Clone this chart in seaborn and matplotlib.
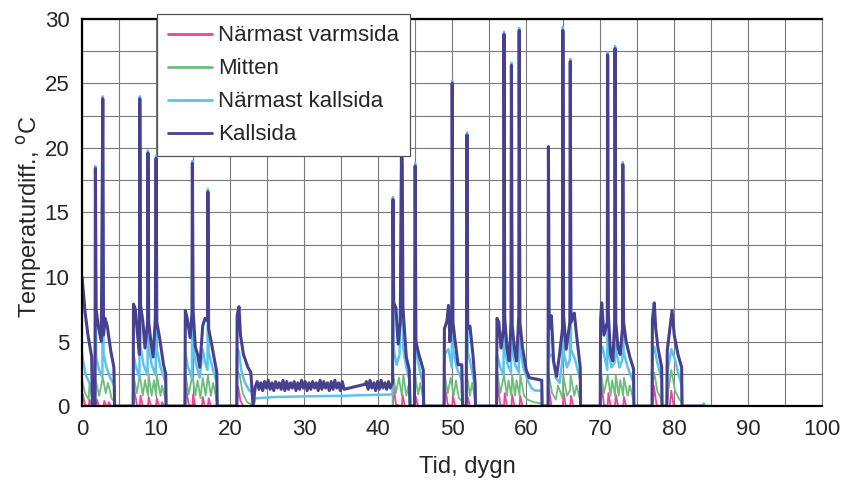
import matplotlib
matplotlib.use("Agg")
import matplotlib.pyplot as plt
import numpy as np
import pandas as pd
import seaborn as sns
from matplotlib.ticker import MultipleLocator

# ── Data ──────────────────────────────────────────────────────────────────────

SERIES = ["Närmast varmsida", "Mitten", "Närmast kallsida", "Kallsida"]
COLORS = ["#e8489a", "#6dbd7c", "#5cc3ec", "#46408e"]
WIDTHS = [1.3, 1.3, 1.8, 2.2]

kallsida = [
    # days 0-4
    (0.0, 10.0), (0.4, 7.3), (0.8, 5.5), (1.3, 3.8), (1.4, 0.0), (1.75, 0.0),
    (1.8, 18.4), (1.9, 7.5), (2.2, 6.2), (2.6, 5.0), (2.8, 23.8), (2.9, 5.5),
    (3.1, 6.8), (3.4, 6.2), (3.9, 4.2), (4.3, 3.0), (4.4, 0.0),
    # days 7-11
    (6.9, 0.0), (6.95, 7.9), (7.2, 7.5), (7.5, 5.5), (7.75, 4.0), (7.8, 23.8),
    (7.9, 7.8), (8.2, 6.6), (8.5, 4.5), (8.85, 6.5), (8.9, 19.6), (9.0, 6.5),
    (9.3, 5.0), (9.6, 3.8), (9.9, 6.8), (10.0, 19.2), (10.1, 6.5), (10.5, 5.2),
    (11.0, 3.2), (11.3, 2.5), (11.35, 0.0),
    # days 14-18
    (13.9, 0.0), (13.95, 7.4), (14.2, 6.8), (14.6, 5.3), (14.85, 7.2),
    (14.9, 18.8), (15.0, 7.4), (15.3, 4.6), (15.6, 4.0), (15.9, 3.0),
    (16.3, 6.2), (16.6, 6.8), (16.95, 6.6), (17.0, 16.6), (17.1, 6.0),
    (17.5, 4.8), (18.2, 2.6), (18.25, 0.0),
    # days 21-23
    (20.9, 0.0), (20.95, 7.0), (21.2, 7.7), (21.4, 5.5), (21.8, 4.0),
    (22.4, 3.0), (22.8, 2.6), (23.1, 0.0),
    # plateau days 23-42
    (23.4, 1.5), (23.65, 1.9), (23.9, 1.3), (24.15, 1.8), (24.4, 1.2),
    (24.65, 1.9), (24.9, 1.4), (25.15, 2.0), (25.4, 1.3), (25.65, 1.8),
    (25.9, 1.2), (26.15, 1.9), (26.4, 1.4), (26.65, 1.8), (26.9, 1.3),
    (27.15, 2.0), (27.4, 1.2), (27.65, 1.9), (27.9, 1.3), (28.15, 1.8),
    (28.4, 1.4), (28.65, 1.9), (28.9, 1.2), (29.15, 1.8), (29.4, 1.3),
    (29.65, 2.0), (29.9, 1.4), (30.15, 1.9), (30.4, 1.2), (30.65, 1.8),
    (30.9, 1.3), (31.15, 1.9), (31.4, 1.4), (31.65, 1.8), (31.9, 1.2),
    (32.15, 2.0), (32.4, 1.3), (32.65, 1.9), (32.9, 1.4), (33.15, 1.8),
    (33.4, 1.2), (33.65, 1.9), (33.9, 1.3), (34.15, 2.0), (34.4, 1.4),
    (34.65, 1.8), (34.9, 1.2), (35.15, 1.9), (35.4, 1.3), (38.3, 1.7),
    (38.4, 1.9), (38.65, 1.3), (38.9, 2.0), (39.15, 1.4), (39.4, 1.8),
    (39.65, 1.2), (39.9, 1.9), (40.15, 1.3), (40.4, 2.0), (40.65, 1.4),
    (40.9, 1.8), (41.15, 1.3), (41.4, 1.9), (41.65, 1.4), (41.95, 1.8),
    # days 42-46
    (42.0, 16.0), (42.1, 8.0), (42.4, 7.6), (42.7, 4.8), (43.0, 6.5),
    (43.15, 20.1), (43.25, 18.8), (43.35, 7.6), (43.8, 3.8), (44.2, 2.8),
    (44.3, 0.0), (44.9, 0.0), (45.0, 18.6), (45.1, 5.0), (45.5, 4.0),
    (46.1, 2.8), (46.15, 0.0),
    # days 49-53
    (48.9, 0.0), (48.95, 6.0), (49.3, 6.6), (49.5, 7.8), (49.7, 5.0),
    (49.95, 7.0), (50.0, 25.0), (50.1, 6.5), (50.4, 5.0), (50.8, 3.2),
    (51.3, 3.2), (51.4, 0.0), (51.9, 0.0), (52.0, 21.0), (52.1, 6.0),
    (52.4, 6.2), (52.8, 4.0), (53.1, 1.8), (53.15, 0.0),
    # days 56-62
    (56.0, 0.0), (56.05, 6.8), (56.3, 6.5), (56.6, 4.5), (56.95, 6.0),
    (57.0, 28.8), (57.1, 6.8), (57.4, 4.5), (57.7, 3.5), (57.95, 6.5),
    (58.0, 26.4), (58.1, 6.3), (58.4, 4.5), (58.7, 3.5), (59.0, 7.0),
    (59.05, 29.1), (59.15, 6.5), (59.5, 4.5), (60.0, 2.8), (60.4, 2.2),
    (62.1, 2.0), (62.15, 0.0),
    # days 63-67
    (62.95, 0.0), (63.0, 20.1), (63.1, 6.0), (63.4, 7.0), (63.7, 3.5),
    (64.1, 2.3), (64.5, 4.0), (64.9, 6.0), (64.95, 29.1), (65.05, 7.0),
    (65.4, 4.4), (65.9, 6.5), (65.95, 26.7), (66.05, 6.5), (66.5, 7.2),
    (66.8, 5.5), (67.3, 3.0), (67.35, 0.0),
    # days 70-74
    (70.0, 0.0), (70.05, 6.7), (70.2, 8.0), (70.5, 5.5), (70.95, 6.5),
    (71.0, 27.2), (71.1, 7.0), (71.4, 4.0), (71.7, 3.5), (71.95, 6.5),
    (72.0, 27.7), (72.1, 6.5), (72.4, 4.5), (72.7, 4.0), (73.0, 6.0),
    (73.05, 18.7), (73.15, 6.5), (73.5, 5.0), (74.0, 3.8), (74.5, 2.9),
    (74.55, 0.0),
    # days 77-81
    (77.0, 0.0), (77.05, 6.7), (77.3, 8.0), (77.5, 6.0), (77.8, 4.5),
    (78.3, 3.0), (78.35, 0.0), (79.0, 0.0), (79.05, 4.3), (79.4, 6.0),
    (79.7, 7.4), (80.0, 5.5), (80.5, 4.0), (81.0, 3.0), (81.05, 0.0),
    (84.0, 0.0),
]

narmast_kallsida = [
    (0.0, 4.1), (0.1, 3.6), (0.5, 2.4), (1.0, 1.8), (1.35, 1.4), (1.4, 0.0),
    (1.75, 0.0), (1.8, 18.6), (1.9, 3.8), (2.3, 2.8), (2.75, 2.2), (2.8, 24.0),
    (2.9, 4.0), (3.3, 3.0), (3.8, 2.2), (4.35, 1.6), (4.4, 0.0),
    (6.9, 0.0), (6.95, 4.0), (7.2, 3.2), (7.75, 2.2), (7.8, 24.0), (7.9, 4.6),
    (8.3, 3.2), (8.85, 2.4), (8.9, 19.8), (9.0, 4.6), (9.4, 3.2), (9.95, 2.4),
    (10.0, 19.4), (10.1, 4.4), (10.6, 3.0), (11.3, 1.8), (11.35, 0.0),
    (13.9, 0.0), (13.95, 4.2), (14.3, 3.0), (14.85, 2.2), (14.9, 19.0),
    (15.0, 4.6), (15.4, 3.2), (15.9, 2.2), (16.3, 4.4), (16.6, 3.4),
    (16.95, 2.8), (17.0, 16.8), (17.1, 4.2), (17.6, 3.0), (18.2, 1.8),
    (18.25, 0.0),
    (20.9, 0.0), (20.95, 4.5), (21.2, 4.2), (21.5, 2.8), (22.0, 1.8),
    (22.6, 1.2), (23.1, 1.0), (23.15, 0.0), (23.4, 0.6), (26.0, 0.7),
    (30.0, 0.75), (35.5, 0.8), (38.3, 0.85), (41.95, 0.9),
    (42.0, 16.2), (42.1, 4.4), (42.5, 3.2), (42.9, 4.0), (43.15, 20.3),
    (43.25, 19.0), (43.35, 4.6), (43.8, 3.0), (44.25, 2.0), (44.3, 0.0),
    (44.9, 0.0), (45.0, 18.8), (45.1, 4.4), (45.6, 2.8), (46.1, 1.6),
    (46.15, 0.0),
    (48.9, 0.0), (48.95, 4.0), (49.5, 4.4), (49.95, 3.0), (50.0, 25.2),
    (50.1, 4.4), (50.6, 3.0), (51.3, 2.0), (51.4, 0.0), (51.9, 0.0),
    (52.0, 21.2), (52.1, 4.2), (52.6, 3.0), (53.1, 1.4), (53.15, 0.0),
    (56.0, 0.0), (56.05, 4.0), (56.5, 3.0), (56.95, 2.4), (57.0, 29.0),
    (57.1, 4.6), (57.5, 3.2), (57.95, 2.6), (58.0, 26.6), (58.1, 4.6),
    (58.5, 3.2), (59.0, 2.6), (59.05, 29.3), (59.15, 4.4), (59.6, 3.0),
    (60.2, 2.0), (60.7, 1.4), (61.2, 1.2), (62.1, 1.2), (62.15, 0.0),
    (62.95, 0.0), (63.0, 20.1), (63.1, 3.8), (63.5, 4.0), (64.0, 2.2),
    (64.5, 1.8), (64.9, 3.6), (64.95, 29.4), (65.05, 4.2), (65.5, 3.0),
    (65.9, 3.6), (65.95, 26.9), (66.05, 4.4), (66.6, 3.6), (67.3, 2.0),
    (67.35, 0.0),
    (70.0, 0.0), (70.05, 4.0), (70.3, 4.6), (70.95, 2.8), (71.0, 27.4),
    (71.1, 4.4), (71.5, 3.0), (71.95, 3.4), (72.0, 27.9), (72.1, 4.4),
    (72.6, 3.0), (73.0, 3.6), (73.05, 18.9), (73.15, 4.2), (73.7, 3.0),
    (74.5, 1.8), (74.55, 0.0),
    (77.0, 0.0), (77.05, 4.0), (77.3, 4.6), (77.7, 3.4), (78.3, 2.0),
    (78.35, 0.0), (79.0, 0.0), (79.05, 2.5), (79.6, 4.4), (80.1, 3.6),
    (80.6, 2.4), (81.0, 1.6), (81.05, 0.0), (83.8, 0.0), (84.0, 0.2),
    (84.2, 0.0), (85.0, 0.0),
]

mitten = [
    (0.0, 2.0), (0.4, 1.0), (0.9, 0.5), (1.0, 1.8), (1.35, 0.6), (1.4, 0.0),
    (1.75, 0.0), (1.85, 2.0), (2.3, 0.8), (2.8, 2.2), (3.2, 1.0), (3.5, 1.8),
    (4.0, 0.6), (4.35, 0.3), (4.4, 0.0),
    (6.9, 0.0), (6.95, 2.4), (7.4, 1.0), (7.8, 2.4), (8.2, 0.8), (8.5, 2.0),
    (8.9, 0.8), (9.0, 2.4), (9.4, 0.8), (9.7, 2.0), (10.0, 0.8), (10.1, 2.4),
    (10.6, 0.8), (10.8, 1.6), (11.3, 0.4), (11.35, 0.0),
    (13.9, 0.0), (13.95, 2.6), (14.4, 0.9), (14.9, 2.4), (15.3, 0.8),
    (15.6, 2.0), (16.0, 0.6), (16.3, 2.2), (16.7, 0.8), (17.0, 2.4),
    (17.4, 0.8), (17.7, 1.8), (18.2, 0.4), (18.25, 0.0),
    (20.9, 0.0), (20.95, 2.8), (21.3, 2.4), (21.7, 1.0), (22.3, 0.3),
    (23.0, 0.1), (23.1, 0.0),
    (41.95, 0.0), (42.0, 2.6), (42.4, 1.0), (42.8, 2.2), (43.2, 0.8),
    (43.4, 2.4), (43.8, 0.8), (44.1, 1.6), (44.3, 0.3), (44.35, 0.0),
    (44.95, 0.0), (45.0, 2.4), (45.4, 0.9), (45.7, 1.8), (46.1, 0.4),
    (46.15, 0.0),
    (48.9, 0.0), (48.95, 2.6), (49.4, 1.0), (49.8, 2.2), (50.2, 0.8),
    (50.5, 2.0), (50.9, 0.6), (51.3, 0.4), (51.4, 0.0), (51.95, 0.0),
    (52.0, 2.4), (52.4, 0.8), (52.7, 1.8), (53.1, 0.4), (53.15, 0.0),
    (56.0, 0.0), (56.05, 2.8), (56.5, 1.0), (57.0, 2.4), (57.4, 0.8),
    (57.6, 2.0), (58.0, 0.8), (58.1, 2.4), (58.5, 0.8), (58.7, 2.0),
    (59.1, 0.8), (59.2, 2.4), (59.7, 0.8), (60.2, 0.5), (61.0, 0.3),
    (62.1, 0.2), (62.15, 0.0),
    (62.95, 0.0), (63.0, 2.6), (63.5, 1.0), (64.0, 0.5), (64.3, 1.6),
    (64.9, 0.6), (65.0, 2.4), (65.5, 0.8), (65.9, 1.2), (66.0, 2.4),
    (66.5, 0.8), (66.8, 1.6), (67.3, 0.4), (67.35, 0.0),
    (70.0, 0.0), (70.05, 2.8), (70.5, 1.0), (71.0, 2.4), (71.4, 0.8),
    (71.6, 2.0), (72.0, 0.8), (72.1, 2.4), (72.5, 0.8), (72.7, 2.0),
    (73.1, 0.8), (73.2, 2.2), (73.7, 0.8), (74.0, 1.6), (74.5, 0.4),
    (74.55, 0.0),
    (77.0, 0.0), (77.05, 1.6), (77.3, 2.6), (77.7, 1.2), (78.3, 0.4),
    (78.35, 0.0), (79.0, 0.0), (79.2, 1.2), (79.6, 2.8), (80.1, 1.2),
    (80.6, 0.6), (81.0, 0.3), (81.05, 0.0),
]

narmast_varmsida = [
    (0.0, 0.0), (0.1, 0.9), (0.4, 0.1), (0.9, 0.0), (1.0, 0.5), (1.3, 0.0),
    (1.9, 0.0), (2.0, 0.5), (2.3, 0.0), (2.9, 0.0), (3.0, 0.4), (3.3, 0.0),
    (3.5, 0.0), (3.6, 0.3), (3.9, 0.0),
    (6.95, 0.0), (7.05, 1.3), (7.4, 0.1), (7.8, 0.0), (7.9, 0.8), (8.2, 0.0),
    (8.9, 0.0), (9.0, 0.7), (9.3, 0.0), (10.0, 0.0), (10.1, 0.6), (10.4, 0.0),
    (10.7, 0.0), (10.8, 0.3), (11.1, 0.0),
    (13.95, 0.0), (14.05, 1.4), (14.4, 0.1), (14.9, 0.0), (15.0, 0.9),
    (15.3, 0.0), (16.2, 0.0), (16.3, 0.7), (16.6, 0.0), (17.0, 0.0),
    (17.1, 0.6), (17.4, 0.0),
    (20.95, 0.0), (21.1, 1.5), (21.4, 0.4), (21.8, 0.0),
    (42.0, 0.0), (42.1, 1.6), (42.4, 0.1), (43.2, 0.0), (43.3, 0.9),
    (43.6, 0.0), (45.0, 0.0), (45.1, 0.7), (45.4, 0.0),
    (48.95, 0.0), (49.05, 1.5), (49.4, 0.1), (50.0, 0.0), (50.1, 0.8),
    (50.4, 0.0), (52.0, 0.0), (52.1, 0.7), (52.4, 0.0),
    (56.05, 0.0), (56.15, 1.6), (56.5, 0.1), (57.0, 0.0), (57.1, 1.0),
    (57.4, 0.0), (58.0, 0.0), (58.1, 0.9), (58.4, 0.0), (59.1, 0.0),
    (59.2, 0.8), (59.5, 0.0),
    (63.0, 0.0), (63.1, 1.3), (63.4, 0.0), (64.95, 0.0), (65.05, 1.0),
    (65.35, 0.0), (65.95, 0.0), (66.05, 0.8), (66.35, 0.0),
    (70.05, 0.0), (70.15, 1.8), (70.5, 0.1), (71.0, 0.0), (71.1, 1.0),
    (71.4, 0.0), (72.0, 0.0), (72.1, 0.9), (72.4, 0.0), (73.1, 0.0),
    (73.2, 0.7), (73.5, 0.0),
    (77.1, 0.0), (77.25, 1.6), (77.6, 0.1), (78.0, 0.0),
    (79.4, 0.0), (79.6, 1.2), (79.9, 0.1), (80.3, 0.0), (81.0, 0.0),
]

X_TICKS = list(range(0, 101, 10))
Y_TICKS = list(range(0, 31, 5))


# ── Build long-form table ─────────────────────────────────────────────────────

frames = []
for name, pts in zip(SERIES, [narmast_varmsida, mitten, narmast_kallsida, kallsida]):
    t, v = zip(*pts)
    frames.append(pd.DataFrame({"tid": t, "temp": v, "serie": name}))
df = pd.concat(frames, ignore_index=True)


# ── Plot ──────────────────────────────────────────────────────────────────────

sns.set_style("white")
plt.rcParams["font.family"] = ["Liberation Sans", "DejaVu Sans"]

fig = plt.figure(figsize=(8.46, 4.84), dpi=100)
ax = fig.add_axes([0.097, 0.161, 0.875, 0.80])

for name, color, lw in zip(SERIES, COLORS, WIDTHS):
    sub = df[df["serie"] == name]
    sns.lineplot(data=sub, x="tid", y="temp", ax=ax, color=color, linewidth=lw,
                 label=name, sort=False, estimator=None)

ax.set_xlim(0, 100)
ax.set_ylim(0, 30)
ax.set_xticks(X_TICKS)
ax.set_yticks(Y_TICKS)
ax.xaxis.set_minor_locator(MultipleLocator(5))
ax.yaxis.set_minor_locator(MultipleLocator(2.5))
ax.grid(which="both", color="#7a7a7a", linewidth=0.8)
ax.set_axisbelow(True)
ax.tick_params(axis="both", which="major", direction="out", length=6,
               width=1.2, color="black", labelsize=16, pad=3)
ax.tick_params(axis="both", which="minor", length=0)

for side in ["left", "bottom", "top"]:
    ax.spines[side].set_color("black")
    ax.spines[side].set_linewidth(1.6)
ax.spines["right"].set_color("#7a7a7a")
ax.spines["right"].set_linewidth(0.8)

ax.set_xlabel("Tid, dygn", fontsize=17)
ax.set_ylabel("Temperaturdiff., $^{\\mathrm{o}}$C", fontsize=17)
ax.xaxis.set_label_coords(0.52, -0.13)
ax.yaxis.set_label_coords(-0.052, 0.49)

leg = ax.legend(loc="upper left", bbox_to_anchor=(0.101, 1.012), fontsize=16,
                frameon=True, fancybox=False, framealpha=1, edgecolor="#555555",
                handlelength=2.0, handletextpad=0.25, labelspacing=0.54,
                borderpad=0.5, borderaxespad=0)
leg.get_frame().set_linewidth(0.9)
leg.set_zorder(10)
for line in leg.get_lines():
    line.set_linewidth(2.0)

fig.savefig("out.png", dpi=100)
